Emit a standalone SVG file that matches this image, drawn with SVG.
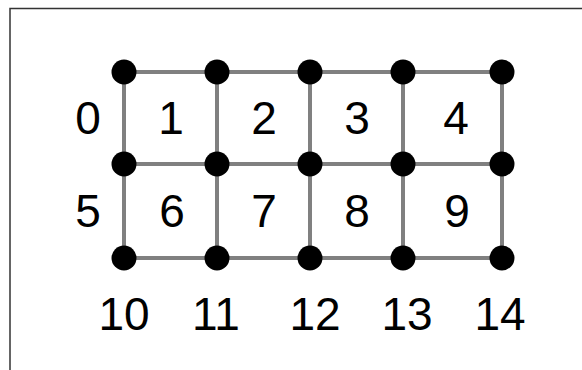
<svg xmlns="http://www.w3.org/2000/svg" width="582" height="370" viewBox="0 0 582 370">
<style>
.frame{stroke:#333;stroke-width:1.5;fill:none}
.e{stroke:#808080;stroke-width:4;fill:none}
.n{fill:#000}
text{font-family:"Liberation Sans",Arial,sans-serif;font-size:46px;fill:#000;text-anchor:middle}
</style>
<rect width="582" height="370" fill="#fff"/>
<path class="frame" d="M10,370 V8.5 H582"/>
<g id="connectors">
<path class="e" d="M124,72 H502 M124,164 H502 M124,258 H502 M124,72 V258 M217,72 V258 M310,72 V258 M403,72 V258 M502,72 V258"/>
</g>
<g id="nodes">
<g id="n0r0"><circle class="n" cx="124" cy="72" r="12.5"/></g>
<g id="n1r0"><circle class="n" cx="217" cy="72" r="12.5"/></g>
<g id="n2r0"><circle class="n" cx="310" cy="72" r="12.5"/></g>
<g id="n3r0"><circle class="n" cx="403" cy="72" r="12.5"/></g>
<g id="n4r0"><circle class="n" cx="502" cy="72" r="12.5"/></g>
<g id="n0r1"><circle class="n" cx="124" cy="164" r="12.5"/></g>
<g id="n1r1"><circle class="n" cx="217" cy="164" r="12.5"/></g>
<g id="n2r1"><circle class="n" cx="310" cy="164" r="12.5"/></g>
<g id="n3r1"><circle class="n" cx="403" cy="164" r="12.5"/></g>
<g id="n4r1"><circle class="n" cx="502" cy="164" r="12.5"/></g>
<g id="n0r2"><circle class="n" cx="124" cy="258" r="12.5"/></g>
<g id="n1r2"><circle class="n" cx="217" cy="258" r="12.5"/></g>
<g id="n2r2"><circle class="n" cx="310" cy="258" r="12.5"/></g>
<g id="n3r2"><circle class="n" cx="403" cy="258" r="12.5"/></g>
<g id="n4r2"><circle class="n" cx="502" cy="258" r="12.5"/></g>
</g>
<g id="labels">
<text x="88" y="134">0</text>
<text x="171" y="134">1</text>
<text x="264" y="134">2</text>
<text x="357" y="134">3</text>
<text x="456" y="134">4</text>
<text x="88" y="227">5</text>
<text x="172" y="227">6</text>
<text x="264" y="227">7</text>
<text x="357" y="227">8</text>
<text x="457" y="227">9</text>
<text x="124" y="330">10</text>
<text x="216" y="330">11</text>
<text x="315" y="330">12</text>
<text x="407" y="330">13</text>
<text x="500" y="330">14</text>
</g>
</svg>
